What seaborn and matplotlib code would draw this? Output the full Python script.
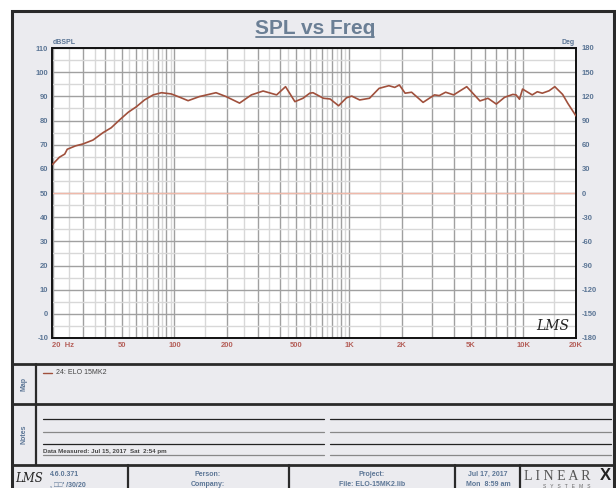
"""SPL vs Freq chart in the LMS report layout."""

import matplotlib
matplotlib.use("Agg")
import matplotlib.pyplot as plt
import numpy as np
import pandas as pd
import seaborn as sns

# measured curve
FREQ_HZ = [20, 21.9, 23.5, 24.3, 27.1, 29.9, 34.1, 39.0, 43.4, 48.4, 54.3,
           60.5, 67.3, 75.5, 84.2, 95.8, 107.5, 119.7, 139, 173, 197.6, 236,
           276, 322, 385, 433, 490, 545, 596, 622, 714, 780, 872, 968, 1037,
           1152, 1311, 1488, 1693, 1830, 1944, 2098, 2285, 2659, 3089, 3290,
           3580, 3980, 4729, 5628, 6260, 6988, 7795, 8690, 9070, 9490, 9880,
           11220, 12010, 12820, 14020, 15120, 16760, 17950, 19830, 20000]
SPL_DB = [61.8, 64.8, 66.1, 68.1, 69.5, 70.3, 71.9, 75.0, 77.0, 80.2, 83.4,
          85.7, 88.5, 90.6, 91.5, 91.0, 89.6, 88.2, 89.9, 91.5, 89.9, 87.2,
          90.6, 92.2, 90.6, 94.0, 87.8, 89.2, 91.3, 91.5, 89.2, 88.9, 86.1,
          89.4, 90.1, 88.5, 89.2, 93.3, 94.4, 93.7, 94.7, 91.3, 91.7, 87.5,
          90.6, 90.3, 91.7, 90.6, 94.0, 88.1, 89.2, 86.8, 89.6, 90.8, 90.6,
          88.8, 93.0, 90.6, 91.9, 91.3, 92.3, 94.0, 90.8, 87.1, 82.3, 81.9]

# axis ticks
MAJOR_FREQ = ([20, 30, 40, 50, 60, 70, 80, 90, 100, 200, 300, 400, 500, 600, 700,
               800, 900, 1000, 2000, 3000, 4000, 5000, 6000, 7000, 8000, 9000,
               10000, 20000])
MINOR_FREQ = [25, 35, 45, 55, 65, 75, 85, 95, 150, 250, 350, 450, 550, 650,
              750, 850, 950, 1500, 15000]
FREQ_LABELS = {20: "20  Hz", 50: "50", 100: "100", 200: "200", 500: "500",
               1000: "1K", 2000: "2K", 5000: "5K", 10000: "10K", 20000: "20K"}
SPL_TICKS = list(range(-10, 111, 10))
DEG_TICKS = list(range(-180, 181, 30))

TRACE_NAME = "24: ELO 15MK2"

W, H = 616, 488
BLUE = "#5b7595"
RED_TXT = "#b5605a"
CURVE = "#a0503c"
PANEL = "#ebebef"

sns.set_style("white")
plt.rcParams["font.family"] = ["Liberation Sans", "DejaVu Sans"]
plt.rcParams["axes.unicode_minus"] = False

fig = plt.figure(figsize=(W / 100, H / 100), dpi=100)
fig.patch.set_facecolor("white")

# background canvas in pixel units for the report frame
bg = fig.add_axes([0, 0, 1, 1])
bg.set_xlim(0, W)
bg.set_ylim(H, 0)
bg.axis("off")
bg.add_patch(plt.Rectangle((12, 11), 602, 480, facecolor=PANEL,
                           edgecolor="#2a2a2a", lw=2.2))
for y in (364, 404, 465):
    bg.plot([12, 614], [y, y], color="#2a2a2a", lw=2.0)
bg.plot([36, 36], [364, 465], color="#2a2a2a", lw=1.6)
for x in (128, 289, 455, 520):
    bg.plot([x, x], [465, 490], color="#2a2a2a", lw=1.6)

# title
bg.text(315, 28, "SPL vs Freq", ha="center", va="center", fontsize=15,
        fontweight="bold", color="#6b7f95")
bg.plot([256, 374], [37, 37], color="#6b7f95", lw=1.3)
bg.text(53, 42, "dBSPL", ha="left", va="center", fontsize=5, fontweight="bold",
        color=BLUE)
bg.text(575, 42, "Deg", ha="right", va="center", fontsize=5, fontweight="bold",
        color=BLUE)

# map / notes sections
bg.text(24, 384, "Map", rotation=90, ha="center", va="center", fontsize=5,
        fontweight="bold", color=BLUE)
bg.text(24, 434, "Notes", rotation=90, ha="center", va="center", fontsize=5,
        fontweight="bold", color=BLUE)
bg.plot([43, 52], [373, 373], color=CURVE, lw=1.0)
bg.text(56, 373, TRACE_NAME, ha="left", va="center", fontsize=5, color="#444")
for x0, x1 in ((43, 324), (330, 611)):
    for y, c in ((419, "#222"), (432, "#888"), (444, "#222"), (455, "#888")):
        bg.plot([x0, x1], [y, y], color=c, lw=0.9)
bg.text(43, 452, "Data Measured: Jul 15, 2017  Sat  2:54 pm", ha="left",
        va="center", fontsize=4.5, fontweight="bold", color="#444")

# footer
bg.text(29, 478, "LMS", ha="center", va="center", fontsize=8.5, style="italic",
        family="DejaVu Serif", color="#222")
bg.text(50, 474, "4.6.0.371", ha="left", va="center", fontsize=5,
        fontweight="bold", color=BLUE)
bg.text(50, 485, ", \u25a1\u25a1' /30/20", ha="left", va="center", fontsize=5,
        fontweight="bold", color=BLUE)
bg.text(208, 474, "Person:", ha="center", va="center", fontsize=5,
        fontweight="bold", color=BLUE)
bg.text(208, 485, "Company:", ha="center", va="center", fontsize=5,
        fontweight="bold", color=BLUE)
bg.text(372, 474, "Project:", ha="center", va="center", fontsize=5,
        fontweight="bold", color=BLUE)
bg.text(372, 485, "File: ELO-15MK2.lib", ha="center", va="center", fontsize=5,
        fontweight="bold", color=BLUE)
bg.text(488, 474, "Jul 17, 2017", ha="center", va="center", fontsize=5,
        fontweight="bold", color=BLUE)
bg.text(488, 485, "Mon  8:59 am", ha="center", va="center", fontsize=5,
        fontweight="bold", color=BLUE)
bg.text(524, 476, "L I N E A R", ha="left", va="center", fontsize=10,
        family="Liberation Serif", color="#555")
bg.text(611, 476, "X", ha="right", va="center", fontsize=12, fontweight="bold",
        color="#222")
bg.text(567, 486, "S   Y   S   T   E   M   S", ha="center", va="center",
        fontsize=3.5, color="#666")

# plot area
left, right, top, bottom = 52.5, 576, 48, 338
ax = fig.add_axes([left / W, 1 - bottom / H, (right - left) / W, (bottom - top) / H])
ax.set_facecolor("white")

df = pd.DataFrame({"freq": FREQ_HZ, "spl": SPL_DB})
sns.lineplot(data=df, x="freq", y="spl", color=CURVE, lw=1.2, ax=ax, zorder=5)

ax.set_xscale("log")
ax.set_xlim(20, 20000)
ax.set_ylim(-10, 110)
ax.set_xticks(MAJOR_FREQ)
ax.set_xticklabels([FREQ_LABELS.get(f, "") for f in MAJOR_FREQ])
ax.set_xticks(MINOR_FREQ, minor=True)
ax.xaxis.set_minor_formatter(matplotlib.ticker.NullFormatter())
ax.set_yticks(SPL_TICKS)
ax.set_yticks(np.array(SPL_TICKS[:-1]) + 5, minor=True)
ax.grid(which="major", color="#a0a0a0", lw=1.0)
ax.grid(which="minor", color="#d8d8d8", lw=1.0)
ax.set_axisbelow(True)
ax.axhline(50, color="#f0b9aa", lw=1.0, zorder=2)
ax.set_xlabel("")
ax.set_ylabel("")
ax.tick_params(which="both", length=0)
ax.tick_params(axis="y", labelsize=5.5, labelcolor=BLUE, pad=3)
ax.tick_params(axis="x", labelsize=5.5, labelcolor=RED_TXT, pad=3)
for lab in ax.get_yticklabels() + ax.get_xticklabels():
    lab.set_fontweight("bold")
first = ax.get_xticklabels()[0]
first.set_ha("left")
for sp in ax.spines.values():
    sp.set_color("#111")
    sp.set_linewidth(1.4)

ax2 = ax.twinx()
ax2.set_ylim(-180, 180)
ax2.set_yticks(DEG_TICKS)
ax2.tick_params(length=0, labelsize=5.5, labelcolor=BLUE, pad=4)
for lab in ax2.get_yticklabels():
    lab.set_fontweight("bold")
for sp in ax2.spines.values():
    sp.set_visible(False)

ax.text(0.955, 0.04, "LMS", transform=ax.transAxes, ha="center", va="center",
        fontsize=10, style="italic", family="DejaVu Serif", color="#222")

fig.savefig("out.png", dpi=100)
